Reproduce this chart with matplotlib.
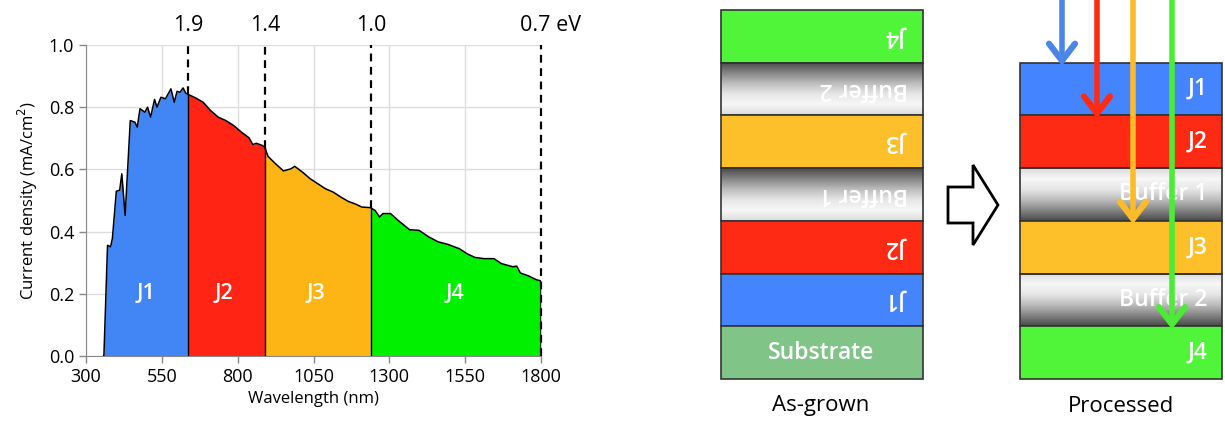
import numpy as np
import matplotlib.pyplot as plt
from matplotlib.patches import Rectangle, Polygon
from matplotlib.colors import LinearSegmentedColormap

plt.rcParams['font.family'] = ['Open Sans', 'DejaVu Sans']

# ---- spectrum data ----
wavelength = [358, 359, 371, 381, 387, 400, 411, 418, 429, 446, 461, 469, 478, 494, 503,
              513, 526, 534, 547, 562, 580, 591, 600, 610, 620, 629, 637, 661, 686, 711,
              736, 761, 787, 812, 837, 850, 862, 881, 889, 900, 925, 951, 976, 988, 1014,
              1039, 1064, 1089, 1115, 1140, 1165, 1190, 1209, 1238, 1253, 1268, 1279, 1304,
              1329, 1367, 1398, 1430, 1461, 1493, 1531, 1556, 1582, 1613, 1645, 1670, 1707,
              1720, 1732, 1758, 1783, 1800]
current = [0.0, 0.0, 0.356, 0.351, 0.378, 0.530, 0.533, 0.586, 0.452, 0.757, 0.752, 0.736,
           0.795, 0.784, 0.800, 0.768, 0.825, 0.800, 0.832, 0.827, 0.859, 0.816, 0.851, 0.848,
           0.862, 0.845, 0.841, 0.830, 0.816, 0.789, 0.768, 0.757, 0.741, 0.720, 0.702, 0.680,
           0.684, 0.677, 0.672, 0.642, 0.618, 0.595, 0.602, 0.610, 0.591, 0.570, 0.554, 0.538,
           0.527, 0.511, 0.497, 0.488, 0.479, 0.477, 0.468, 0.447, 0.458, 0.458, 0.436, 0.406,
           0.404, 0.383, 0.367, 0.359, 0.345, 0.329, 0.317, 0.313, 0.313, 0.297, 0.287, 0.289,
           0.267, 0.258, 0.246, 0.241]

# junction edges (nm), band gap labels, junction names
edges = [358, 637, 890, 1240, 1800]
gap_labels = ['1.9', '1.4', '1.0', '0.7 eV']
gap_label_x = [637, 890, 1240, 1830]
junctions = ['J1', 'J2', 'J3', 'J4']
junction_label_x = [499, 755, 1058, 1516]
chart_colors = ['#4285F4', '#FF2414', '#FDB515', '#00F000']

# ---- layer stacks ----
grown_layers = ['J4', 'Buffer 2', 'J3', 'Buffer 1', 'J2', 'J1', 'Substrate']
processed_layers = ['J1', 'J2', 'Buffer 1', 'J3', 'Buffer 2', 'J4']
layer_colors = {'J1': '#4584FF', 'J2': '#FF2A14', 'J3': '#FDBF2A', 'J4': '#50F53A',
                'Substrate': '#80C488'}
ray_colors = ['#4A86E8', '#FF2A14', '#FDBB2A', '#4CEB35']
ray_depth = [0, 1, 3, 5]   # layers passed before absorption

fig = plt.figure(figsize=(12.25, 4.22), dpi=100)

# =========================== spectrum chart ===========================
ax = fig.add_axes([86 / 1225, 66 / 422, 455 / 1225, 311 / 422])
wl = np.array(wavelength, dtype=float)
jc = np.array(current, dtype=float)

for i in range(4):
    lo, hi = edges[i], edges[i + 1]
    m = (wl > lo) & (wl < hi)
    xs = np.concatenate([[lo], wl[m], [hi]])
    ys = np.concatenate([[np.interp(lo, wl, jc)], jc[m], [np.interp(hi, wl, jc)]])
    ax.fill_between(xs, 0, ys, color=chart_colors[i], lw=0, zorder=2)
    ax.text(junction_label_x[i], 0.2, junctions[i], color='white', fontsize=15.5,
            weight='semibold', ha='center', va='center', zorder=4)
    if i > 0:
        ax.plot([lo, lo], [0, np.interp(lo, wl, jc)], color='black', lw=1, zorder=3)

ax.plot(np.concatenate([wl, [1800]]), np.concatenate([jc, [0]]), color='black', lw=1.1, zorder=3)

for x, lab, lx in zip(edges[1:], gap_labels, gap_label_x):
    ybot = 0 if x == 1800 else np.interp(x, wl, jc)
    ax.plot([x, x], [ybot, 1.0], color='black', lw=1.6, ls=(0, (3.5, 2.5)), zorder=3,
            clip_on=False)
    ax.text(lx, 1.03, lab, fontsize=15.5, ha='center', va='bottom')

ax.set_xlim(300, 1800)
ax.set_ylim(0, 1.0)
ax.set_xticks(np.arange(300, 1801, 250))
ax.set_yticks(np.arange(0, 1.01, 0.2))
ax.set_yticklabels([f'{v:.1f}' for v in np.arange(0, 1.01, 0.2)])
ax.tick_params(labelsize=13, colors='#888888', labelcolor='black', length=5, width=1)
ax.grid(color='#DDDDDD', lw=1, zorder=0)
ax.set_axisbelow(True)
for s in ['top', 'right']:
    ax.spines[s].set_visible(False)
for s in ['left', 'bottom']:
    ax.spines[s].set_color('#888888')
ax.set_xlabel('Wavelength (nm)', fontsize=12, labelpad=4)
ax.set_ylabel('Current density (mA/cm$^2$)', fontsize=12, labelpad=6)

# =========================== layer diagrams ===========================
ax2 = fig.add_axes([0, 0, 1, 1])
ax2.set_xlim(0, 1225)
ax2.set_ylim(422, 0)
ax2.axis('off')

buf_cmap = LinearSegmentedColormap.from_list(
    'buf', ['#4A4A4A', '#858585', '#BDBDBD', '#E6E6E6', '#F7F7F7', '#DCDCDC'])
grad = np.linspace(0, 1, 100).reshape(-1, 1)
h = 52.7


def draw_stack(x0, x1, y0, names, flip):
    for k, name in enumerate(names):
        top = y0 + k * h
        if name.startswith('Buffer'):
            img = grad if flip else grad[::-1]
            ax2.imshow(img, cmap=buf_cmap, aspect='auto', extent=(x0, x1, top + h, top),
                       zorder=1, interpolation='bilinear')
            ax2.add_patch(Rectangle((x0, top), x1 - x0, h, fill=False, ec='#333333', lw=1.2,
                                    zorder=2))
        else:
            ax2.add_patch(Rectangle((x0, top), x1 - x0, h, fc=layer_colors[name],
                                    ec='#333333', lw=1.2, zorder=2))
        kw = dict(color='white', fontsize=16.5, weight='semibold', va='center', zorder=3)
        if name == 'Substrate':
            ax2.text((x0 + x1) / 2, top + h / 2, name, ha='center', **kw)
        elif flip:
            ax2.text(x1 - 14, top + h / 2, name, rotation=180, ha='right', **kw)
        else:
            ax2.text(x1 - 14, top + h / 2, name, ha='right', **kw)


draw_stack(720.5, 922.5, 10, grown_layers, True)
draw_stack(1019.5, 1221.5, 62.7, processed_layers, False)

# hollow block arrow
ax2.add_patch(Polygon([(948, 187), (973, 187), (973, 165), (998, 205), (973, 245),
                       (973, 223), (948, 223)], closed=True, fc='white', ec='black', lw=2,
                      zorder=2))

# light rays into the processed stack
ray_x = [1062, 1097, 1133, 1172]
for c, x, d in zip(ray_colors, ray_x, ray_depth):
    tip = 62.7 + d * h - 2
    ax2.plot([x, x], [0, tip - 3], color=c, lw=4, solid_capstyle='butt', zorder=5)
    ax2.plot([x - 13, x, x + 13], [tip - 17, tip, tip - 17], color=c, lw=4.5,
             solid_capstyle='round', solid_joinstyle='miter', zorder=5)

ax2.text(821, 406, 'As-grown', fontsize=16, ha='center', va='center')
ax2.text(1121, 406, 'Processed', fontsize=16, ha='center', va='center')

fig.savefig('out.png', dpi=100)
